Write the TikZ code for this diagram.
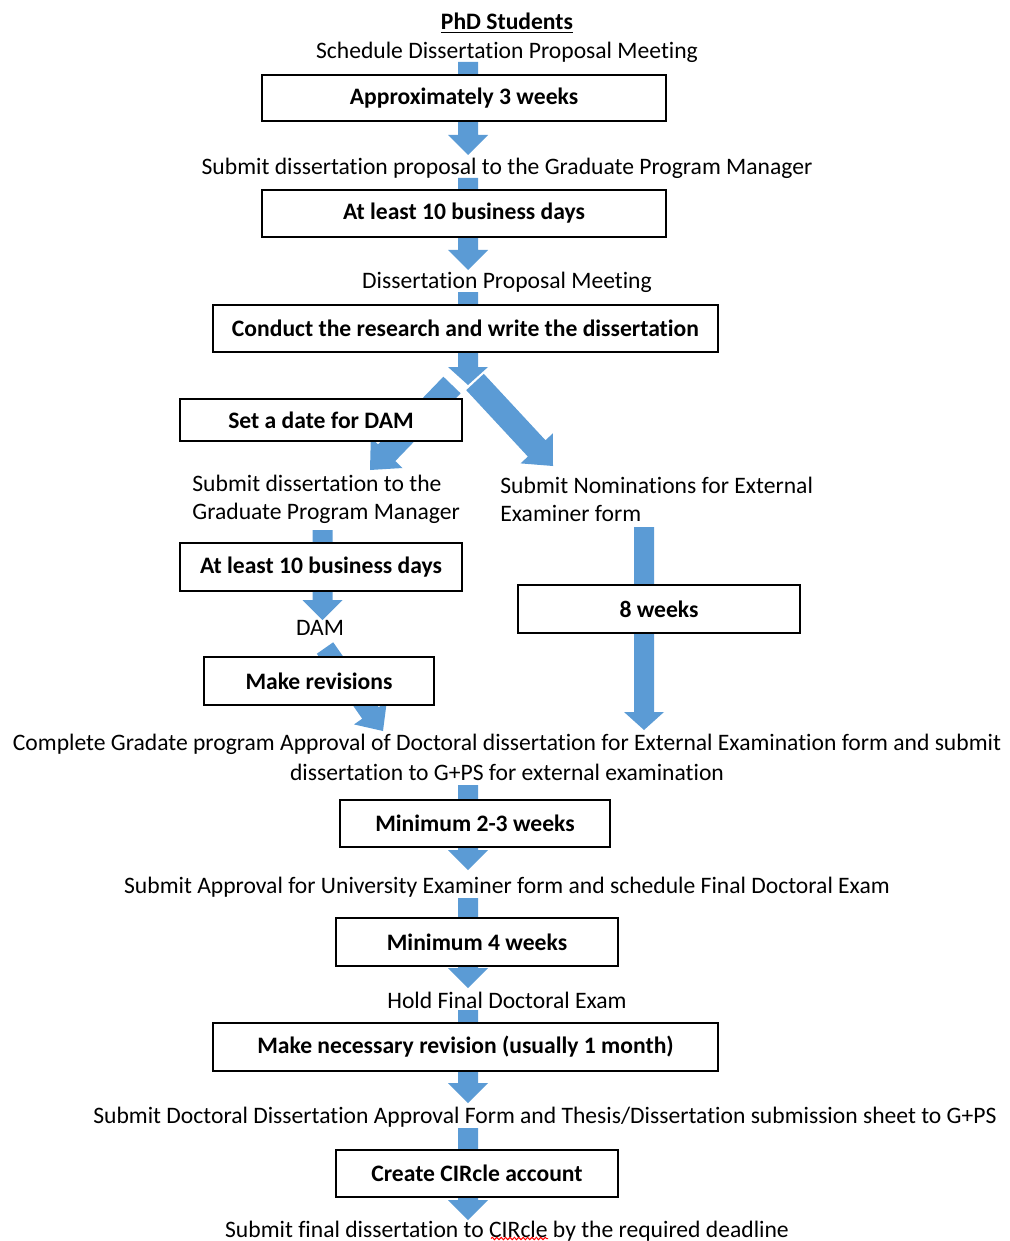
\documentclass[tikz,border=0pt]{standalone}
\usepackage{fontspec}
\setmainfont{Carlito}[Ligatures={NoCommon}]
\usetikzlibrary{calc,backgrounds,decorations.pathmorphing}
\definecolor{arrblue}{HTML}{5B9BD5}
\newcommand\blockarr[5]{%
  \coordinate (bh) at ($(#2)!#5!(#1)$);
  \fill[arrblue] ($(#1)!#3!90:(#2)$) -- ($(bh)!#3!-90:(#1)$) -- ($(bh)!#4!-90:(#1)$) -- (#2)
    -- ($(bh)!#4!90:(#1)$) -- ($(bh)!#3!90:(#1)$) -- ($(#1)!#3!-90:(#2)$) -- cycle;}
\begin{document}
\begin{tikzpicture}[x=0.5pt,y=-0.5pt,
  txt/.style={font=\fontsize{11.8}{15}\selectfont, inner sep=0pt, align=center},
  box/.style={draw, line width=0.7pt, fill=white, inner sep=0pt,
    font=\fontsize{11.8}{15}\selectfont\bfseries}]
\useasboundingbox (0,0) rectangle (1009,1241);
% texts
\node[txt, font=\fontsize{11.8}{15}\selectfont\bfseries] (title) at (507,23.5) {\underline{PhD Students}};
\node[txt] (t1) at (507,52) {Schedule Dissertation Proposal Meeting};
\node[txt] (t2) at (507,168) {Submit dissertation proposal to the Graduate Program Manager};
\node[txt] (t3) at (507,282) {Dissertation Proposal Meeting};
\node[txt, align=left, anchor=west, font=\fontsize{11.8}{14}\selectfont] (t4) at (192,499) {Submit dissertation to the\\Graduate Program Manager};
\node[txt, align=left, anchor=west, font=\fontsize{11.8}{14}\selectfont] (t5) at (500,499) {Submit Nominations for External\\Examiner form};
\node[txt] (t6) at (320,628) {DAM};
\node[txt] (t7) at (507,757) {Complete Gradate program Approval of Doctoral dissertation for External Examination form and submit\\dissertation to G+PS for external examination};
\node[txt] (t8) at (507,887) {Submit Approval for University Examiner form and schedule Final Doctoral Exam};
\node[txt] (t9) at (507,1000) {Hold Final Doctoral Exam};
\node[txt] (t10) at (545,1117) {Submit Doctoral Dissertation Approval Form and Thesis/Dissertation submission sheet to G+PS};
\node[txt] (t11) at (507,1231) {Submit final dissertation to CIRcle by the required deadline};
% boxes
\node[box, minimum width=202pt, minimum height=23pt] (b1) at (464,98) {Approximately 3 weeks};
\node[box, minimum width=202pt, minimum height=23.5pt] (b2) at (464,213.5) {At least 10 business days};
\node[box, minimum width=252.5pt, minimum height=23.5pt] (b3) at (465.5,328.5) {Conduct the research and write the dissertation};
\node[box, minimum width=141pt, minimum height=21pt] (b4) at (321,420) {Set a date for DAM};
\node[box, minimum width=141pt, minimum height=24pt] (b5) at (321,567) {At least 10 business days};
\node[box, minimum width=141pt, minimum height=24pt] (b6) at (659,609) {8 weeks};
\node[box, minimum width=115pt, minimum height=24pt] (b7) at (319,681) {Make revisions};
\node[box, minimum width=135pt, minimum height=23.5pt] (b8) at (475,823.5) {Minimum 2-3 weeks};
\node[box, minimum width=141pt, minimum height=24pt] (b9) at (477,942) {Minimum 4 weeks};
\node[box, minimum width=252.5pt, minimum height=24pt] (b10) at (465.5,1047) {Make necessary revision (usually 1 month)};
\node[box, minimum width=141pt, minimum height=23.5pt] (b11) at (477,1173.5) {Create CIRcle account};
% spelling mark
\draw[red, line width=0.5pt, decorate, decoration={snake, amplitude=0.6pt, segment length=2.2pt}] (491,1238.5) -- (548,1238.5);
% arrows
\begin{scope}[on background layer]
\coordinate (a1s) at (468,62);    \coordinate (a1e) at (468,155);
\coordinate (a2s) at (468,178);   \coordinate (a2e) at (468,270);
\coordinate (a3s) at (468,292);   \coordinate (a3e) at (468,385);
\coordinate (dls) at (452,385);   \coordinate (dle) at (370,470);
\coordinate (drs) at (475,382);   \coordinate (dre) at (553,466);
\coordinate (lvs) at (322.5,530); \coordinate (lve) at (322.5,620);
\coordinate (rvs) at (644,527);   \coordinate (rve) at (644,730);
\coordinate (rss) at (325,648);   \coordinate (rse) at (383,731);
\coordinate (a8s) at (468,785);   \coordinate (a8e) at (468,870);
\coordinate (a9s) at (468,898);   \coordinate (a9e) at (468,988);
\coordinate (a10s) at (468,1010); \coordinate (a10e) at (468,1103);
\coordinate (a11s) at (468,1128); \coordinate (a11e) at (468,1220);
\blockarr{a1s}{a1e}{5pt}{10pt}{10pt}
\blockarr{a2s}{a2e}{5pt}{10pt}{10pt}
\blockarr{a3s}{a3e}{5pt}{10pt}{9pt}
\blockarr{dls}{dle}{6pt}{11pt}{12pt}
\blockarr{drs}{dre}{6pt}{11pt}{12pt}
\blockarr{lvs}{lve}{5pt}{10pt}{10pt}
\blockarr{rvs}{rve}{5pt}{10pt}{9pt}
\blockarr{rss}{rse}{5pt}{10pt}{11pt}
\blockarr{a8s}{a8e}{5pt}{10pt}{10pt}
\blockarr{a9s}{a9e}{5pt}{10pt}{10pt}
\blockarr{a10s}{a10e}{5pt}{10pt}{10pt}
\blockarr{a11s}{a11e}{5pt}{10pt}{10pt}
\end{scope}
\end{tikzpicture}
\end{document}
